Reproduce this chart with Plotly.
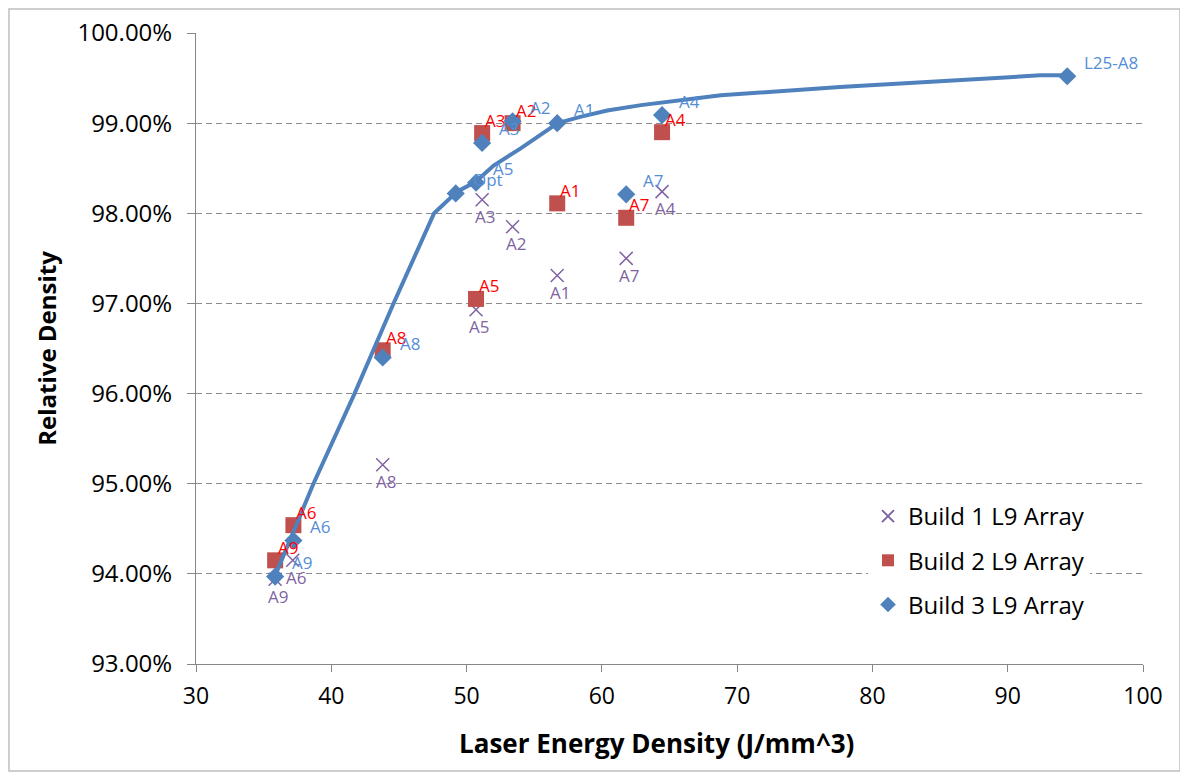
import plotly.graph_objects as go

# ---------------- data ----------------
b1_labels = ["A9", "A6", "A8", "A5", "A3", "A2", "A1", "A7", "A4"]
b1_x = [35.85, 37.15, 43.8, 50.7, 51.15, 53.4, 56.7, 61.8, 64.45]
b1_y = [93.94, 94.15, 95.21, 96.93, 98.15, 97.85, 97.31, 97.50, 98.24]

b2_labels = ["A9", "A6", "A8", "A5", "A3", "A2", "A1", "A7", "A4"]
b2_x = [35.85, 37.2, 43.8, 50.7, 51.15, 53.4, 56.7, 61.8, 64.45]
b2_y = [94.15, 94.54, 96.48, 97.05, 98.89, 99.00, 98.11, 97.95, 98.90]

b3_labels = ["A9", "A6", "A8", "Opt", "A5", "A3", "A2", "A1", "A7", "A4", "L25-A8"]
b3_x = [35.85, 37.2, 43.8, 49.2, 50.7, 51.15, 53.4, 56.7, 61.8, 64.45, 94.4]
b3_y = [93.97, 94.37, 96.40, 98.22, 98.34, 98.78, 99.02, 99.00, 98.21, 99.09, 99.52]

trend_x = [35.85, 38.68, 41.72, 44.6, 47.6, 49.3, 50.67, 52.0, 54.0, 56.74, 58.4, 60.4, 62.9, 68.8, 77.6, 85.0, 92.4, 94.4]
trend_y = [93.98, 95.0, 96.0, 97.0, 98.0, 98.24, 98.35, 98.53, 98.72, 99.0, 99.07, 99.14, 99.2, 99.31, 99.40, 99.47, 99.53, 99.53]

x_ticks = [30, 40, 50, 60, 70, 80, 90, 100]
y_ticks = [93, 94, 95, 96, 97, 98, 99, 100]

# ---------------- style ----------------
PURPLE = "#8064A2"
RED = "#C0504D"
BLUE = "#4F81BD"
FONT = "Open Sans"

fig = go.Figure()

fig.add_trace(go.Scatter(
    x=b1_x, y=b1_y, mode="markers", name="Build 1 L9 Array",
    marker=dict(symbol="x-thin-open", size=13, color=PURPLE, line=dict(width=1.5, color=PURPLE)),
    legendgroup="g1", showlegend=True, hoverinfo="skip"))
fig.add_trace(go.Scatter(
    x=b2_x, y=b2_y, mode="markers", name="Build 2 L9 Array",
    marker=dict(symbol="square", size=16, color=RED),
    legendgroup="g2", showlegend=True, hoverinfo="skip"))
fig.add_trace(go.Scatter(
    x=trend_x, y=trend_y, mode="lines", name="trend",
    line=dict(color=BLUE, width=4), showlegend=False, hoverinfo="skip"))
fig.add_trace(go.Scatter(
    x=b3_x, y=b3_y, mode="markers", name="Build 3 L9 Array",
    marker=dict(symbol="diamond", size=14, color=BLUE),
    legendgroup="g3", showlegend=True, hoverinfo="skip"))

annotations = []
for lx, ly, t in zip(b1_x, b1_y, b1_labels):
    annotations.append(dict(x=lx, y=ly, text=t, showarrow=False, xanchor="center", yanchor="middle",
                            xshift=3, yshift=-17, font=dict(family=FONT, size=17, color=PURPLE)))
for lx, ly, t in zip(b2_x, b2_y, b2_labels):
    annotations.append(dict(x=lx, y=ly, text=t, showarrow=False, xanchor="left", yanchor="middle",
                            xshift=1, yshift=13, font=dict(family=FONT, size=17, color="#FF0000")))
for lx, ly, t in zip(b3_x, b3_y, b3_labels):
    annotations.append(dict(x=lx, y=ly, text=t, showarrow=False, xanchor="left", yanchor="middle",
                            xshift=15, yshift=14, font=dict(family=FONT, size=17, color="#558ED5")))

# page body has an 8px margin; figure sized so the plot lands where the reference has it
W, H = 1180, 766
ml, mr, mt, mb = 188, 45, 25, 110
pw, ph = W - ml - mr, H - mt - mb

# x axis title placed as a paper annotation (slightly left of centre, like the reference)
annotations.append(dict(x=(656 - 196) / pw, y=-(743 - 664) / ph, xref="paper", yref="paper",
                        text="<b>Laser Energy Density (J/mm^3)</b>", showarrow=False,
                        xanchor="center", yanchor="middle",
                        font=dict(family=FONT, size=26, color="black")))

fig.update_layout(
    width=W, height=H,
    margin=dict(l=ml, r=mr, t=mt, b=mb, autoexpand=False),
    paper_bgcolor="white", plot_bgcolor="white",
    font=dict(family=FONT, color="black"),
    annotations=annotations,
    legend=dict(x=(860 - ml) / pw, y=(656 - 486) / ph, xanchor="left", yanchor="top",
                bgcolor="white", font=dict(family=FONT, size=24, color="black"),
                tracegroupgap=10, itemsizing="constant"),
    shapes=[dict(type="rect", xref="paper", yref="paper",
                 x0=(1 - ml) / pw, x1=(W - 8 - ml) / pw,
                 y0=-(mb - 3) / ph, y1=(H - mb - 1) / ph,
                 line=dict(color="#BFBFBF", width=1.5), layer="below")],
)

fig.update_xaxes(
    range=[30, 100], tickvals=x_ticks, ticktext=[str(v) for v in x_ticks],
    showgrid=False, zeroline=False, automargin=False,
    showline=True, linecolor="#868686", linewidth=1,
    ticks="outside", ticklen=7, tickcolor="#868686",
    ticklabelstandoff=4,
    tickfont=dict(family=FONT, size=23, color="black"),
)
fig.update_yaxes(
    range=[93, 100], tickvals=y_ticks, ticktext=[f"{v:.2f}%" for v in y_ticks],
    showgrid=True, gridcolor="#8C8C8C", gridwidth=1, griddash="6px,4px",
    zeroline=False, showline=True, linecolor="#868686", linewidth=1, automargin=False,
    ticks="outside", ticklen=8, tickcolor="#868686",
    ticklabelstandoff=10,
    tickfont=dict(family=FONT, size=24, color="black"),
    title=dict(text="<b>Relative Density</b>", font=dict(family=FONT, size=24, color="black"), standoff=14),
)

fig.write_html("out.html")
